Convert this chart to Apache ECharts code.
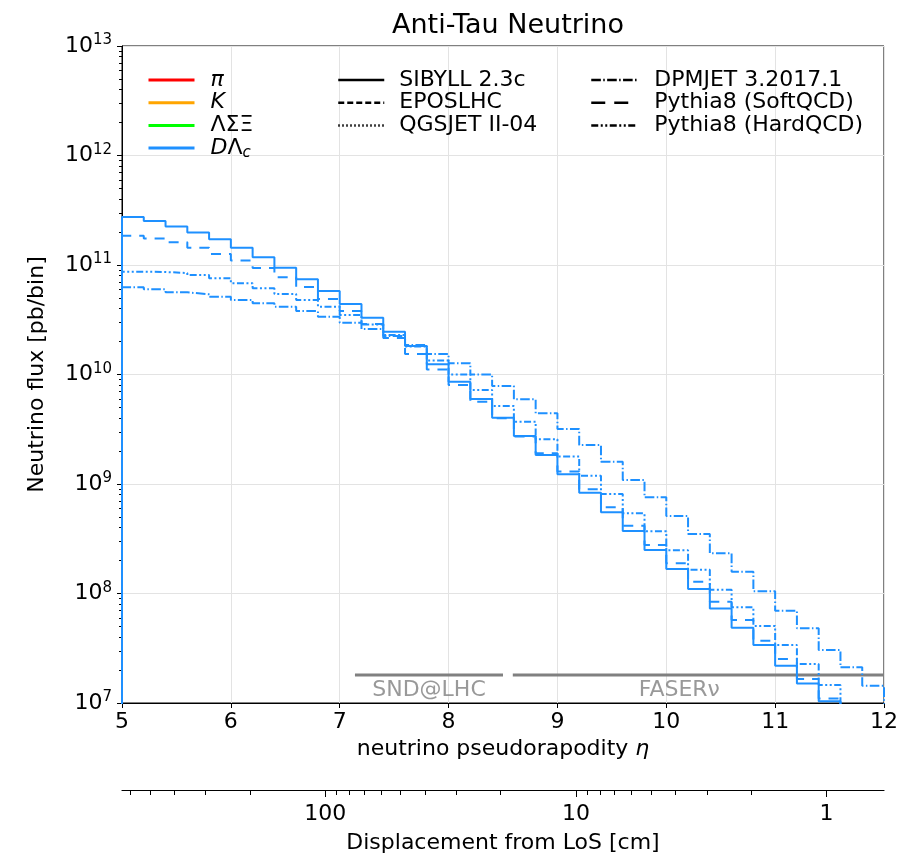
<!DOCTYPE html>
<html>
<head>
<meta charset="utf-8">
<script src="https://cdn.jsdelivr.net/npm/echarts@6/dist/echarts.min.js"></script>
<style>
  html, body { margin: 0; padding: 0; background: #fff; }
  #chart { width: 908px; height: 857px; }
</style>
</head>
<body>
<div id="chart"></div>
<script>
// bin edges in neutrino pseudorapidity
const etaEdges = [5.0, 5.2, 5.4, 5.6, 5.8, 6.0, 6.2, 6.4, 6.6, 6.8, 7.0, 7.2, 7.4, 7.6, 7.8, 8.0, 8.2, 8.4,
  8.6, 8.8, 9.0, 9.2, 9.4, 9.6, 9.8, 10.0, 10.2, 10.4, 10.6, 10.8, 11.0, 11.2, 11.4, 11.6, 11.8, 12.0];

// anti-tau neutrino flux from D / Lambda_c decays [pb/bin], one value per bin
const sibyll = [2.74e11, 2.52e11, 2.25e11, 1.98e11, 1.72e11, 1.44e11, 1.18e11, 9.45e10, 7.40e10, 5.79e10,
  4.41e10, 3.30e10, 2.46e10, 1.82e10, 1.24e10, 8.6e9, 5.98e9, 4.03e9, 2.74e9, 1.84e9,
  1.23e9, 8.33e8, 5.52e8, 3.72e8, 2.50e8, 1.67e8, 1.10e8, 7.3e7, 4.87e7, 3.39e7,
  2.19e7, 1.51e7, 1.04e7, null, null];
const pythiaSoft = [1.85e11, 1.75e11, 1.61e11, 1.44e11, 1.26e11, 1.10e11, 9.39e10, 7.72e10, 6.30e10, 4.89e10,
  3.80e10, 2.89e10, 2.15e10, 1.54e10, 1.11e10, 8.02e9, 5.64e9, 3.98e9, 2.72e9, 1.91e9,
  1.30e9, 8.95e8, 6.13e8, 4.16e8, 2.77e8, 1.89e8, 1.28e8, 8.42e7, 5.73e7, 3.71e7,
  2.52e7, 1.66e7, 1.10e7, null, null];
const pythiaHard = [8.68e10, 8.63e10, 8.45e10, 8.10e10, 7.56e10, 6.81e10, 6.13e10, 5.44e10, 4.79e10, 4.16e10,
  3.49e10, 2.86e10, 2.29e10, 1.80e10, 1.34e10, 1.00e10, 7.22e9, 5.16e9, 3.71e9, 2.56e9,
  1.78e9, 1.19e9, 8.10e8, 5.40e8, 3.70e8, 2.48e8, 1.65e8, 1.08e8, 7.48e7, 5.05e7,
  3.39e7, 2.27e7, 1.46e7, null, null];
const dpmjet = [6.26e10, 6.00e10, 5.63e10, 5.40e10, 5.13e10, 4.79e10, 4.47e10, 4.16e10, 3.80e10, 3.37e10,
  2.97e10, 2.60e10, 2.25e10, 1.86e10, 1.54e10, 1.27e10, 1.00e10, 7.85e9, 5.94e9, 4.42e9,
  3.18e9, 2.27e9, 1.60e9, 1.09e9, 7.56e8, 5.10e8, 3.49e8, 2.33e8, 1.58e8, 1.05e8,
  6.96e7, 4.81e7, 3.05e7, 2.12e7, 1.44e7];

// detector acceptance bars
const detectorNames = ['SND@LHC', 'FASERν'];
const detectorStart = [7.14, 8.59];
const detectorEnd = [8.50, 12.0];
const detectorLabelEta = [7.82, 10.12];
const detectorLineFlux = 1.8e7;
const detectorLabelFlux = 1.31e7;

// secondary axis: displacement from line of sight, d = LOS_CM * exp(-eta)
const LOS_CM = 96000;
const dispMajor = [100, 10, 1];
const dispMinor = [600, 500, 400, 300, 200, 90, 80, 70, 60, 50, 40, 30, 20, 9, 8, 7, 6, 5, 4, 3, 2];
const yDecades = [1e7, 1e8, 1e9, 1e10, 1e11, 1e12];

const FONT = 'DejaVu Sans';
const BLUE = '#1e90ff';
const FLOOR = 1e6;

const toEta = d => Math.log(LOS_CM / d);
const yMinor = [];
yDecades.forEach(dec => { for (let k = 2; k <= 9; k++) yMinor.push(k * dec); });

function stepPoints(values) {
  const pts = [[etaEdges[0], FLOOR]];
  let last = -1;
  values.forEach((v, i) => {
    if (v != null) { pts.push([etaEdges[i], v]); last = i; }
  });
  pts.push([etaEdges[last + 1], values[last]]);
  pts.push([etaEdges[last + 1], FLOOR]);
  return pts;
}

function histSeries(name, values, dash) {
  return {
    name, type: 'line', step: 'end', data: stepPoints(values),
    symbol: 'none', showSymbol: false, silent: true, z: 3,
    lineStyle: { color: BLUE, width: 2, type: dash },
  };
}

function legendSeries(name, color, dash, width) {
  return {
    name, type: 'line', data: [], symbol: 'none', showSymbol: false, color,
    lineStyle: { color, width, type: dash },
  };
}

const particleLabel = {
  'π': '{it|π}',
  'K': '{it|K}',
  'ΛΣΞ': '{up|ΛΣΞ}',
  'DΛc': '{it|D}{up|Λ}{sub|c}',
};

const legendText = {
  fontFamily: FONT, fontSize: 22, color: '#000', lineHeight: 22,
  rich: {
    it: { fontFamily: FONT, fontSize: 22, fontStyle: 'italic', lineHeight: 22 },
    up: { fontFamily: FONT, fontSize: 22, lineHeight: 22 },
    sub: { fontFamily: FONT, fontSize: 15, fontStyle: 'italic', padding: [10, 0, 0, 0] },
  },
};

function legendCol(names, left, pad, lineWidth, formatter) {
  return {
    data: names, left, top: 64, orient: 'vertical', itemWidth: 46, itemHeight: 22, itemGap: 0.7,
    selectedMode: false, formatter,
    itemStyle: { opacity: 0, borderWidth: 0 },
    lineStyle: { width: lineWidth },
    textStyle: Object.assign({}, legendText, { padding: [0, 0, 0, pad] }),
  };
}

const chart = echarts.init(document.getElementById('chart'), null, { renderer: 'canvas' });

const grids = [
  { left: 122, top: 46, width: 762, height: 657, show: true, borderColor: '#000', borderWidth: 1 },
  { left: 122, top: 46, width: 762, height: 657 },
  { left: 122, top: 780, width: 762, height: 10 },
  { left: 122, top: 780, width: 762, height: 10 },
];

chart.setOption({
  animation: false,
  backgroundColor: '#fff',
  title: {
    text: 'Anti-Tau Neutrino', left: 503, top: 7, textAlign: 'center',
    textStyle: { fontFamily: FONT, fontSize: 27, fontWeight: 'normal', color: '#000' },
  },
  grid: grids,
  legend: [
    legendCol(['π', 'K', 'ΛΣΞ', 'DΛc'], 142, 11, 3, n => particleLabel[n]),
    legendCol(['SIBYLL 2.3c', 'EPOSLHC', 'QGSJET II-04'], 332, 10, 2.5),
    legendCol(['DPMJET 3.2017.1', 'Pythia8 (SoftQCD)', 'Pythia8 (HardQCD)'], 585, 12, 2.5),
  ],
  xAxis: [
    {
      gridIndex: 0, type: 'value', min: 5, max: 12, interval: 1,
      name: 'neutrino pseudorapodity {it|η}', nameLocation: 'middle', nameGap: 34,
      nameTextStyle: { fontFamily: FONT, fontSize: 22, color: '#000',
        rich: { it: { fontFamily: FONT, fontSize: 22, fontStyle: 'italic' } } },
      axisLine: { lineStyle: { color: '#000', width: 1 } },
      axisTick: { length: 5, lineStyle: { color: '#000' } },
      axisLabel: { fontFamily: FONT, fontSize: 22, color: '#000', margin: 8 },
      splitLine: { show: true, lineStyle: { color: '#e3e3e3', width: 1 } },
    },
    { gridIndex: 1, type: 'value', min: 5, max: 12, show: false },
    {
      gridIndex: 2, type: 'value', min: 5, max: 12,
      name: 'Displacement from LoS [cm]', nameLocation: 'middle', nameGap: 42,
      nameTextStyle: { fontFamily: FONT, fontSize: 22, color: '#000' },
      axisLine: { lineStyle: { color: '#000', width: 1.2 } },
      axisTick: { length: 7, customValues: dispMajor.map(toEta), lineStyle: { color: '#000' } },
      axisLabel: {
        customValues: dispMajor.map(toEta), fontFamily: FONT, fontSize: 22, color: '#000', margin: 13,
        formatter: v => String(Math.round(LOS_CM * Math.exp(-v))),
      },
      splitLine: { show: false },
    },
    {
      gridIndex: 3, type: 'value', min: 5, max: 12,
      axisLine: { show: false },
      axisTick: { length: 5, customValues: dispMinor.map(toEta), lineStyle: { color: '#000' } },
      axisLabel: { show: false },
      splitLine: { show: false },
    },
  ],
  yAxis: [
    {
      gridIndex: 0, type: 'log', logBase: 10, min: 1e7, max: 1e13, splitNumber: 6,
      name: 'Neutrino flux [pb/bin]', nameLocation: 'middle', nameGap: 74,
      nameTextStyle: { fontFamily: FONT, fontSize: 22, color: '#000' },
      axisLine: { lineStyle: { color: '#000', width: 1 } },
      axisTick: { length: 5, lineStyle: { color: '#000' } },
      axisLabel: {
        fontFamily: FONT, color: '#000', margin: 10,
        formatter: v => '{b|10}{e|' + Math.round(Math.log10(v)) + '}',
        rich: {
          b: { fontFamily: FONT, fontSize: 22 },
          e: { fontFamily: FONT, fontSize: 15, padding: [0, 0, 11, 0] },
        },
      },
      splitLine: { show: true, lineStyle: { color: '#e3e3e3', width: 1 } },
      minorTick: { show: false },
    },
    {
      gridIndex: 1, type: 'log', logBase: 10, min: 1e7, max: 1e13,
      axisLine: { show: false },
      axisTick: { length: 3, customValues: yMinor, lineStyle: { color: '#000' } },
      axisLabel: { show: false },
      splitLine: { show: false },
    },
    { gridIndex: 2, type: 'value', show: false },
    { gridIndex: 3, type: 'value', show: false },
  ],
  series: [
    legendSeries('π', '#ff0000', 'solid', 3),
    legendSeries('K', '#ffa500', 'solid', 3),
    legendSeries('ΛΣΞ', '#00ff00', 'solid', 3),
    legendSeries('DΛc', BLUE, 'solid', 3),
    legendSeries('SIBYLL 2.3c', '#000', 'solid', 2.5),
    legendSeries('EPOSLHC', '#000', [6, 3], 2.5),
    legendSeries('QGSJET II-04', '#000', [1.5, 2.5], 2.5),
    legendSeries('DPMJET 3.2017.1', '#000', [9.6, 2.4, 1.5, 2.4], 2.5),
    legendSeries('Pythia8 (SoftQCD)', '#000', [14, 9], 2.5),
    legendSeries('Pythia8 (HardQCD)', '#000', [7, 2.5, 2, 2.5, 2, 2.5], 2.5),
    ...detectorNames.map((n, i) => ({
      name: n + ' range', type: 'line', symbol: 'none', silent: true, z: 2,
      data: [[detectorStart[i], detectorLineFlux], [detectorEnd[i], detectorLineFlux]],
      lineStyle: { color: '#808080', width: 3 },
    })),
    {
      name: 'detector labels', type: 'scatter', symbolSize: 0, silent: true,
      data: detectorNames.map((n, i) => ({ name: n, value: [detectorLabelEta[i], detectorLabelFlux] })),
      label: { show: true, position: 'inside', formatter: '{b}', fontFamily: FONT, fontSize: 22, color: '#808080' },
    },
    histSeries('DPMJET 3.2017.1 DΛc', dpmjet, [9.6, 2.4, 1.5, 2.4]),
    histSeries('Pythia8 (HardQCD) DΛc', pythiaHard, [7, 2.5, 2, 2.5, 2, 2.5]),
    histSeries('Pythia8 (SoftQCD) DΛc', pythiaSoft, [10, 8]),
    histSeries('SIBYLL 2.3c DΛc', sibyll, 'solid'),
  ],
});
</script>
</body>
</html>
